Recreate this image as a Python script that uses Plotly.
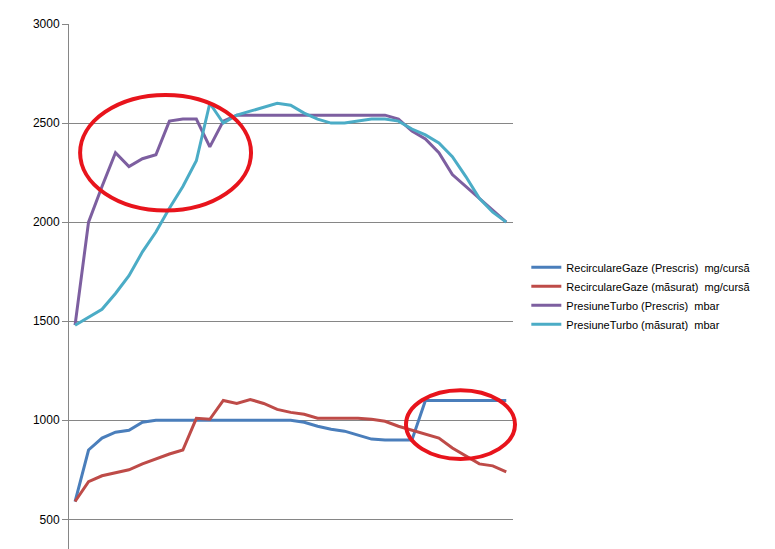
import plotly.graph_objects as go

x = list(range(33))
recirc_prescris = [590, 850, 910, 940, 950, 990, 1000, 1000, 1000, 1000, 1000, 1000, 1000, 1000, 1000, 1000, 1000,
                   990, 970, 955, 945, 925, 905, 900, 900, 900, 1100, 1100, 1100, 1100, 1100, 1100, 1100]
recirc_masurat = [590, 690, 720, 735, 750, 780, 805, 830, 850, 1010, 1005, 1100, 1085, 1105, 1085, 1055, 1040,
                  1030, 1010, 1010, 1010, 1010, 1005, 995, 970, 950, 930, 910, 860, 820, 780, 770, 740]
turbo_prescris = [1480, 2000, 2180, 2350, 2280, 2320, 2340, 2510, 2520, 2520, 2380, 2510, 2540, 2540, 2540, 2540, 2540,
                  2540, 2540, 2540, 2540, 2540, 2540, 2540, 2520, 2460, 2420, 2350, 2240, 2180, 2120, 2060, 2000]
turbo_masurat = [1480, 1520, 1560, 1640, 1730, 1850, 1950, 2070, 2180, 2310, 2600, 2500, 2540, 2560, 2580, 2600, 2590,
                 2550, 2520, 2500, 2500, 2510, 2520, 2520, 2510, 2470, 2440, 2400, 2330, 2230, 2120, 2050, 2000]
names = ["RecirculareGaze (Prescris)  mg/cursã", "RecirculareGaze (mãsurat)  mg/cursã",
         "PresiuneTurbo (Prescris)  mbar", "PresiuneTurbo (mãsurat)  mbar"]
colors = ["#4a7ebb", "#be4b48", "#7d5fa0", "#4bacc6"]

fig = go.Figure()
for ys, n, c in zip([recirc_prescris, recirc_masurat, turbo_prescris, turbo_masurat], names, colors):
    fig.add_trace(go.Scatter(x=x, y=ys, name=n, mode="lines", line=dict(color=c, width=3)))

for x0, x1, y0, y1 in [(0.025, 0.41, 0.650, 0.867), (0.759, 1.0045, 0.184, 0.313)]:
    fig.add_shape(type="circle", xref="paper", yref="paper", x0=x0, x1=x1, y0=y0, y1=y1,
                  line=dict(color="#e8141c", width=4))

fig.update_layout(
    width=775, height=549, margin=dict(l=61, r=270, t=16, b=0, autoexpand=False),
    paper_bgcolor="white", plot_bgcolor="white",
    font=dict(family="Liberation Sans, Arial", size=12, color="black"),
    xaxis=dict(range=[-0.45, 32.5], showticklabels=False, showgrid=False, zeroline=False, automargin=False),
    yaxis=dict(range=[310, 3000], tickvals=[500, 1000, 1500, 2000, 2500, 3000], gridcolor="#868686",
               showline=True, linecolor="#868686", ticks="outside", ticklen=6, tickcolor="#868686",
               zeroline=False, automargin=False),
    legend=dict(x=1.03, y=0.49, yanchor="middle", font=dict(size=11), tracegroupgap=4,
                bgcolor="rgba(0,0,0,0)"),
    showlegend=True,
)
fig.write_html("out.html")
